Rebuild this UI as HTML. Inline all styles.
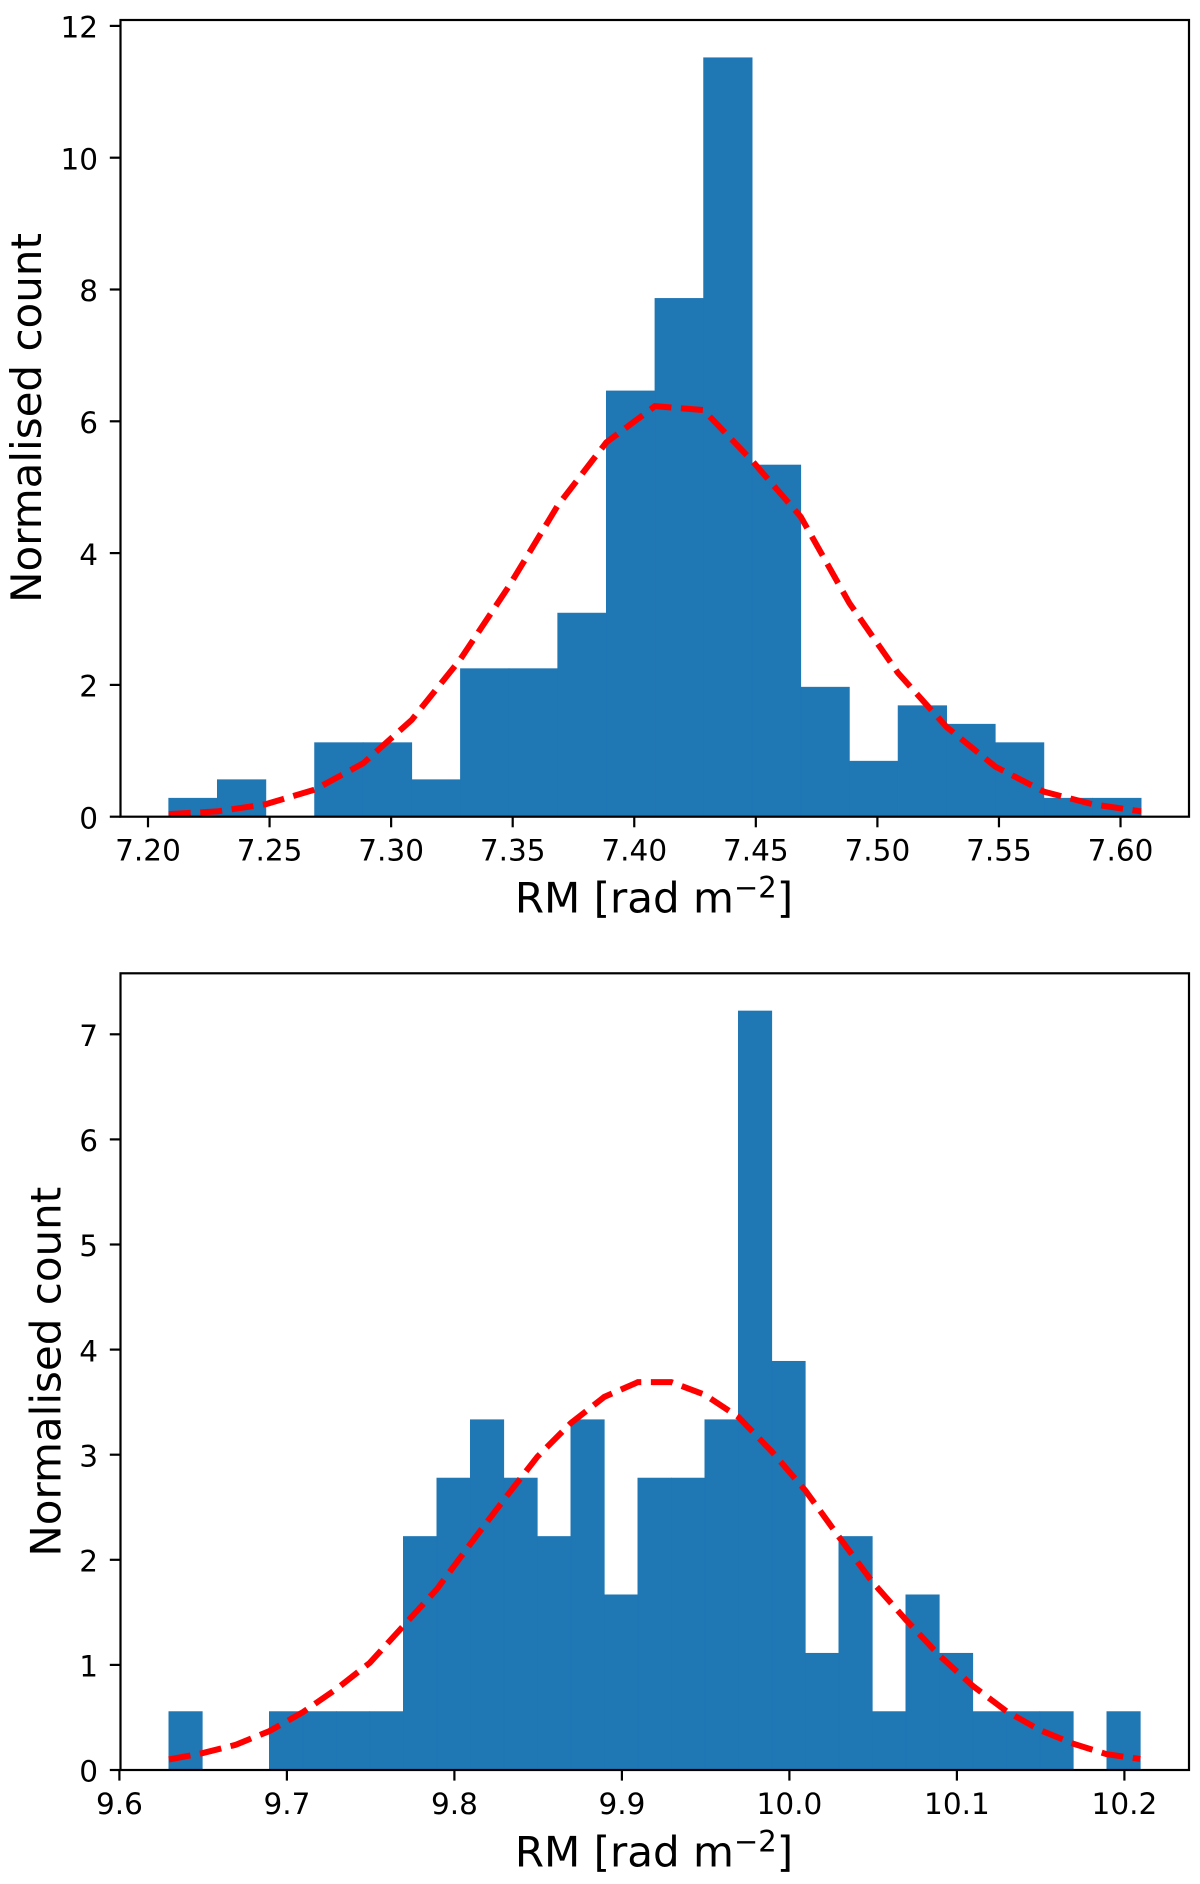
<!DOCTYPE html>
<html lang="en">
<head>
<meta charset="utf-8">
<title>RM histograms</title>
<style>
html,body{margin:0;padding:0;background:#fff;width:1200px;height:1884px;overflow:hidden}
svg{display:block}
text{font-family:"DejaVu Sans","Liberation Sans",sans-serif;fill:#000}
.tick{font-size:29.5px}
.label{font-size:42px}
.sup{font-size:29px}
</style>
</head>
<body>
<svg id="figure" width="1200" height="1884" viewBox="0 0 1200 1884" xmlns="http://www.w3.org/2000/svg">
  <g id="panel-top">
    <g id="top-bars"></g>
    <polyline id="top-fit" fill="none" stroke="#ff0000" stroke-width="6" stroke-dasharray="22 9.6"></polyline>
    <g id="top-axes"></g>
    <rect x="120.5" y="20" width="1068.5" height="796.7" fill="none" stroke="#000" stroke-width="2.2"></rect>
    <text class="label" x="654" y="912.7" text-anchor="middle">RM [rad m<tspan class="sup" dy="-15">−2</tspan><tspan dy="15">]</tspan></text>
    <text class="label" transform="translate(41 418) rotate(-90)" text-anchor="middle">Normalised count</text>
  </g>
  <g id="panel-bottom">
    <g id="bottom-bars"></g>
    <polyline id="bottom-fit" fill="none" stroke="#ff0000" stroke-width="6" stroke-dasharray="22 9.6"></polyline>
    <g id="bottom-axes"></g>
    <rect x="120.5" y="973.3" width="1068.5" height="796.7" fill="none" stroke="#000" stroke-width="2.2"></rect>
    <text class="label" x="654" y="1866.7" text-anchor="middle">RM [rad m<tspan class="sup" dy="-15">−2</tspan><tspan dy="15">]</tspan></text>
    <text class="label" transform="translate(60.5 1371.7) rotate(-90)" text-anchor="middle">Normalised count</text>
  </g>
</svg>
<script>
// Top panel data
const topEdges = [7.2085,7.2285,7.2485,7.2685,7.2885,7.3085,7.3285,7.3485,7.3685,7.3885,7.4085,7.4285,7.4485,7.4685,7.4885,7.5085,7.5285,7.5485,7.5685,7.5885,7.6085];
const topHeights = [0.281,0.562,0,1.124,1.124,0.562,2.247,2.247,3.090,6.461,7.865,11.517,5.337,1.966,0.843,1.685,1.404,1.124,0.281,0.281];
const topFit = [0.04,0.08,0.19,0.41,0.81,1.47,2.39,3.50,4.72,5.68,6.23,6.17,5.40,4.55,3.24,2.18,1.36,0.76,0.38,0.19,0.08];
const topXTicks = ['7.20','7.25','7.30','7.35','7.40','7.45','7.50','7.55','7.60'];
const topYTicks = ['0','2','4','6','8','10','12'];

// Bottom panel data
const bottomEdges = [9.6295,9.6495,9.6695,9.6895,9.7095,9.7295,9.7495,9.7695,9.7895,9.8095,9.8295,9.8495,9.8695,9.8895,9.9095,9.9295,9.9495,9.9695,9.9895,10.0095,10.0295,10.0495,10.0695,10.0895,10.1095,10.1295,10.1495,10.1695,10.1895,10.2095];
const bottomHeights = [0.556,0,0,0.556,0.556,0.556,0.556,2.222,2.778,3.333,2.778,2.222,3.333,1.667,2.778,2.778,3.333,7.222,3.889,1.111,2.222,0.556,1.667,1.111,0.556,0.556,0.556,0,0.556];
const bottomFit = [0.10,0.16,0.24,0.37,0.55,0.77,1.02,1.37,1.72,2.15,2.57,2.98,3.30,3.55,3.69,3.69,3.57,3.36,3.03,2.66,2.22,1.79,1.43,1.09,0.80,0.56,0.38,0.25,0.15,0.105];
const bottomXTicks = ['9.6','9.7','9.8','9.9','10.0','10.1','10.2'];
const bottomYTicks = ['0','1','2','3','4','5','6','7'];

// Axis functions
function xTop(v){ return 148 + (v - 7.2) * 2431.3; }
function yTop(v){ return 816.7 - v * 65.9; }
function xBottom(v){ return 119.4 + (v - 9.6) * 1675; }
function yBottom(v){ return 1770 - v * 105.1; }

const NS = 'http://www.w3.org/2000/svg';

function drawBars(groupId, edges, heights, xf, yf){
  const group = document.getElementById(groupId);
  heights.forEach(function(h, i){
    if (h <= 0) return;
    const el = document.createElementNS(NS, 'rect');
    
    
    el.setAttribute('x', xf(edges[i]));
    el.setAttribute('y', yf(h));
    el.setAttribute('width', xf(edges[i + 1]) - xf(edges[i]));
    el.setAttribute('height', yf(0) - yf(h));
    el.setAttribute('fill', '#1f77b4');
    el.setAttribute('stroke', '#1f77b4');
    el.setAttribute('stroke-width', '0.6');
    group.appendChild(el);
  });
}

function drawFit(lineId, edges, fit, xf, yf){
  const pts = fit.map(function(v, i){ return xf(edges[i]).toFixed(2) + ',' + yf(v).toFixed(2); });
  document.getElementById(lineId).setAttribute('points', pts.join(' '));
}

function drawTicks(groupId, xTicks, yTicks, xf, yf){
  const group = document.getElementById(groupId);
  const axisY = yf(0);
  xTicks.forEach(function(label){
    const px = xf(parseFloat(label));
    const mark = document.createElementNS(NS, 'line');
    
    
    mark.setAttribute('x1', px);
    mark.setAttribute('x2', px);
    mark.setAttribute('y1', axisY);
    mark.setAttribute('y2', axisY + 10.6);
    mark.setAttribute('stroke', '#000');
    mark.setAttribute('stroke-width', '2.2');
    group.appendChild(mark);
    const text = document.createElementNS(NS, 'text');
    
    
    text.setAttribute('class', 'tick');
    text.setAttribute('x', px);
    text.setAttribute('y', axisY + 44);
    text.setAttribute('text-anchor', 'middle');
    text.textContent = label;
    group.appendChild(text);
  });
  yTicks.forEach(function(label){
    const py = yf(parseFloat(label));
    const mark = document.createElementNS(NS, 'line');
    
    
    mark.setAttribute('x1', 109.8);
    mark.setAttribute('x2', 120.5);
    mark.setAttribute('y1', py);
    mark.setAttribute('y2', py);
    mark.setAttribute('stroke', '#000');
    mark.setAttribute('stroke-width', '2.2');
    group.appendChild(mark);
    const text = document.createElementNS(NS, 'text');
    
    
    text.setAttribute('class', 'tick');
    text.setAttribute('x', 98);
    text.setAttribute('y', py + 11.7);
    text.setAttribute('text-anchor', 'end');
    text.textContent = label;
    group.appendChild(text);
  });
}

drawBars('top-bars', topEdges, topHeights, xTop, yTop);
drawFit('top-fit', topEdges, topFit, xTop, yTop);
drawTicks('top-axes', topXTicks, topYTicks, xTop, yTop);
drawBars('bottom-bars', bottomEdges, bottomHeights, xBottom, yBottom);
drawFit('bottom-fit', bottomEdges, bottomFit, xBottom, yBottom);
drawTicks('bottom-axes', bottomXTicks, bottomYTicks, xBottom, yBottom);
</script>
</body>
</html>
